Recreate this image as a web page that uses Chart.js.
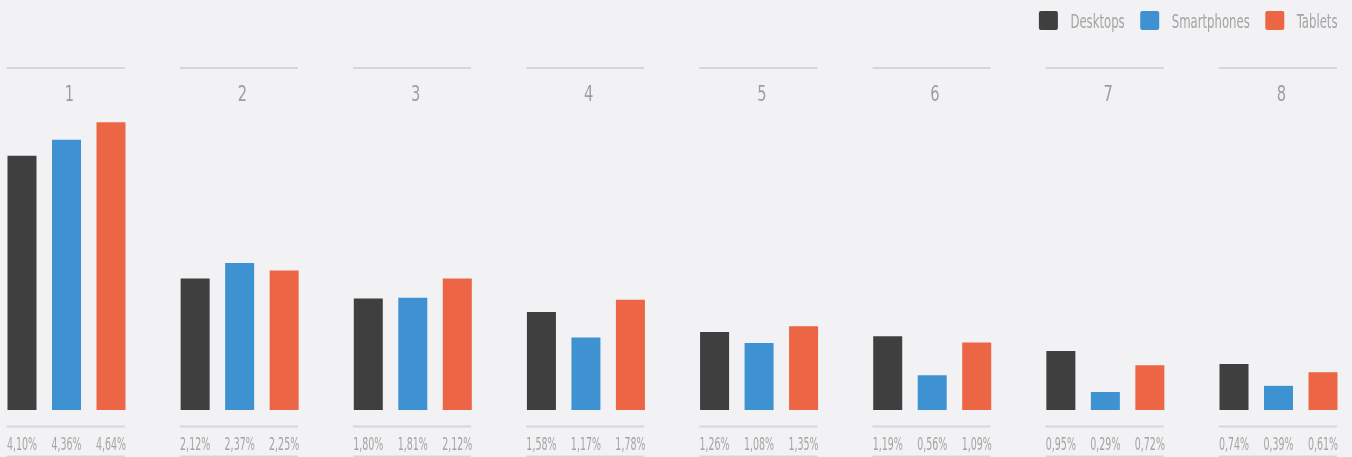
<!DOCTYPE html>
<html>
<head>
<meta charset="utf-8">
<script src="https://cdn.jsdelivr.net/npm/chart.js@4.4.1/dist/chart.umd.min.js"></script>
<style>
  html, body { margin: 0; padding: 0; background: #f2f2f4; }
  #wrap { width: 1352px; height: 457px; position: relative; overflow: hidden; }
  canvas { display: block; }
</style>
</head>
<body>
<div id="wrap"><canvas id="chart" width="1352" height="457"></canvas></div>
<script>
// ---- data ----
const categories = ['1', '2', '3', '4', '5', '6', '7', '8'];
const seriesNames = ['Desktops', 'Smartphones', 'Tablets'];
const desktops    = [4.10, 2.12, 1.80, 1.58, 1.26, 1.19, 0.95, 0.74];
const smartphones = [4.36, 2.37, 1.81, 1.17, 1.08, 0.56, 0.29, 0.39];
const tablets     = [4.64, 2.25, 2.12, 1.78, 1.35, 1.09, 0.72, 0.61];
const yMax = 5;

// ---- styles ----
const seriesColors = ['#3f3f3f', '#3f92d2', '#ec6645'];
const FONT = "'Liberation Sans Narrow', 'DejaVu Sans Condensed', 'Roboto', sans-serif";
const TEXT_COLOR = '#a4a4a4';
const LINE_COLOR = '#d6d6d8';

function fmt(v) { return v.toFixed(2).replace('.', ',') + '%'; }

function squeezedText(ctx, text, x, y, align, sx) {
  ctx.save();
  ctx.translate(x, y);
  ctx.scale(sx, 1);
  ctx.textAlign = align;
  ctx.textBaseline = 'alphabetic';
  ctx.fillText(text, 0, 0);
  ctx.restore();
}

const decorPlugin = {
  id: 'decor',
  afterDatasetsDraw(chart) {
    const ctx = chart.ctx;
    const metas = chart.data.datasets.map((d, k) => chart.getDatasetMeta(k));
    ctx.save();
    categories.forEach((cat, i) => {
      const first = metas[0].data[i];
      const last = metas[metas.length - 1].data[i];
      const left = first.x - first.width / 2 - 0.7;
      const right = last.x + last.width / 2 - 0.7;
      const cx = (left + right) / 2;
      ctx.fillStyle = LINE_COLOR;
      ctx.fillRect(left, 67, right - left, 2);
      ctx.fillRect(left, 425.5, right - left, 2);
      ctx.fillRect(left, 455.5, right - left, 2);
      ctx.fillStyle = '#9e9e9e';
      ctx.font = '22px ' + FONT;
      squeezedText(ctx, cat, cx + 3.5, 101, 'center', 0.74);
      ctx.fillStyle = TEXT_COLOR;
      ctx.font = '17px ' + FONT;
      metas.forEach((m, k) => {
        const bar = m.data[i];
        const v = chart.data.datasets[k].data[i];
        squeezedText(ctx, fmt(v), bar.x, 450, 'center', 0.62);
      });
    });
    // legend, laid out from the right edge
    ctx.font = '20px ' + FONT;
    const LSX = 0.65;
    let cursor = 1337.5;
    for (let k = seriesNames.length - 1; k >= 0; k--) {
      const w = ctx.measureText(seriesNames[k]).width * LSX;
      const textLeft = cursor - w;
      ctx.fillStyle = TEXT_COLOR;
      squeezedText(ctx, seriesNames[k], textLeft, 28, 'left', LSX);
      const boxLeft = textLeft - 31.5;
      ctx.fillStyle = seriesColors[k];
      ctx.beginPath();
      if (ctx.roundRect) ctx.roundRect(boxLeft, 11, 19, 19, 2); else ctx.rect(boxLeft, 11, 19, 19);
      ctx.fill();
      cursor = boxLeft - 15.5;
    }
    ctx.restore();
  }
};

const seriesData = [desktops, smartphones, tablets];

new Chart(document.getElementById('chart'), {
  type: 'bar',
  data: {
    labels: categories,
    datasets: seriesNames.map((name, k) => ({
      label: name,
      data: seriesData[k],
      backgroundColor: seriesColors[k],
      borderWidth: 0,
      clip: false,
      categoryPercentage: 0.771,
      barPercentage: 0.652
    }))
  },
  options: {
    responsive: false,
    animation: false,
    devicePixelRatio: 1,
    layout: { padding: { left: 66.5, right: 73.5, top: 100, bottom: 47 } },
    plugins: { legend: { display: false }, tooltip: { enabled: false } },
    scales: {
      x: { display: false, offset: false, grid: { display: false } },
      y: { display: false, min: 0, max: yMax }
    }
  },
  plugins: [decorPlugin]
});
</script>
</body>
</html>
